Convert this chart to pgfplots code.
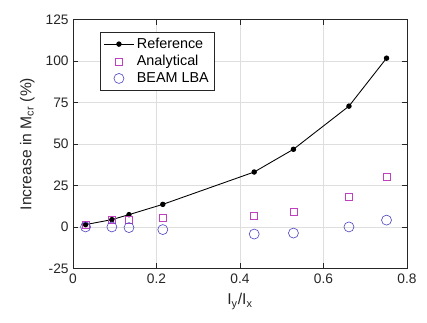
\documentclass[border=0pt]{standalone}
\usepackage{pgfplots}
\pgfplotsset{compat=1.18}
\usepackage{fontspec}
\setmainfont{Liberation Sans}
\definecolor{anacol}{RGB}{192,64,192}
\definecolor{beamcol}{RGB}{80,72,192}
\definecolor{axcol}{RGB}{38,38,38}
\begin{document}
\begin{tikzpicture}
\begin{axis}[
  scale only axis, width=267pt, height=199pt,
  xmin=0, xmax=0.8, ymin=-25, ymax=125,
  xtick={0,0.2,0.4,0.6,0.8}, ytick={-25,0,25,50,75,100,125},
  xticklabels={0,0.2,0.4,0.6,0.8},
  /pgf/number format/assume math mode=true,
  tick align=inside, tick pos=both,
  major tick length=4pt,
  grid=major, major grid style={draw=black!13, line width=0.4pt},
  axis line style={draw=axcol, line width=0.5pt},
  tick style={draw=axcol, line width=0.5pt},
  ticklabel style={font=\fontsize{11}{13}\selectfont, text=axcol},
  xticklabel style={yshift=-1pt},
  xlabel={I\textsubscript{y}/I\textsubscript{x}},
  ylabel={Increase in M\textsubscript{cr} (\%)},
  label style={font=\fontsize{12.5}{14}\selectfont, text=axcol},
  xlabel style={yshift=-1pt},
  ylabel style={yshift=2pt},
  legend image code/.code={\draw[mark repeat=2,mark phase=2,#1] plot coordinates {(0pt,0pt) (12pt,0pt) (24pt,0pt)};},
  legend style={at={(rel axis cs:0,1)}, anchor=north west, xshift=21.6pt, yshift=-10pt,
    draw=axcol, line width=0.5pt, fill=white, font=\fontsize{11.5}{13}\selectfont,
    row sep=0pt, inner sep=2.5pt},
  legend cell align=left,
]
\addplot[black, line width=0.7pt, mark=*, mark size=1.8pt] coordinates {
(0.030,1.4) (0.093,4.4) (0.134,7.4) (0.215,13.6) (0.434,33.1) (0.528,46.8) (0.661,72.8) (0.751,101.7)};
\addlegendentry{Reference}
\addplot[only marks, anacol, mark=square, mark size=2.8pt, line width=0.5pt] coordinates {
(0.030,1.5) (0.093,4.2) (0.134,4.0) (0.215,5.6) (0.434,7.0) (0.528,9.0) (0.661,18.0) (0.751,30.1)};
\addlegendentry{Analytical}
\addplot[only marks, beamcol, mark=o, mark size=4pt, line width=0.5pt] coordinates {
(0.030,0.0) (0.093,0.0) (0.134,-0.4) (0.215,-1.6) (0.434,-4.3) (0.528,-3.7) (0.661,0.0) (0.751,4.1)};
\addlegendentry{BEAM LBA}
\end{axis}
\path ([shift={(-58.4pt,-43.2pt)}]current axis.south west) rectangle ([shift={(16pt,15.6pt)}]current axis.north east);
\end{tikzpicture}
\end{document}
